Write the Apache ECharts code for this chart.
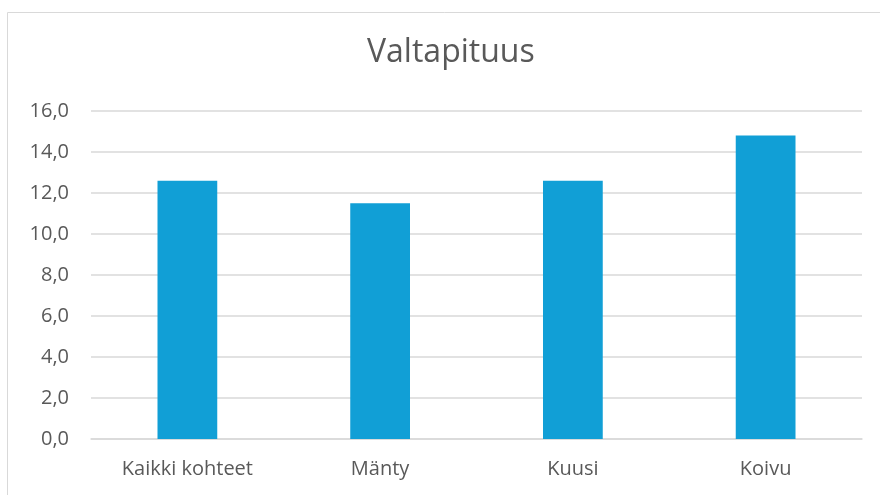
<!DOCTYPE html>
<html><head><meta charset="utf-8">
<script src="https://cdn.jsdelivr.net/npm/echarts@6/dist/echarts.min.js"></script>
<style>html,body{margin:0;padding:0;background:#fff}#c{width:880px;height:495px}</style>
</head><body><div id="c"></div>
<script>
const categories = ["Kaikki kohteet", "Mänty", "Kuusi", "Koivu"];
const values = [12.6, 11.5, 12.6, 14.8];
const yTicks = {min: 0, max: 16, interval: 2};
const title = "Valtapituus";

const chart = echarts.init(document.getElementById('c'), null, {renderer: 'canvas'});
const font = "'Open Sans', 'Noto Sans', sans-serif";
chart.setOption({
  animation: false,
  graphic: [{type: 'rect', shape: {x: 7.5, y: 12.5, width: 900, height: 500}, style: {fill: 'none', stroke: '#d9d9d9', lineWidth: 1}}],
  title: {text: title, left: 367, top: 37, padding: 0, textStyle: {fontFamily: font, fontSize: 32, fontWeight: 'normal', color: '#595959'}},
  grid: {left: 91, right: 18, top: 111, bottom: 56, containLabel: false},
  xAxis: {
    type: 'category', data: categories,
    axisLine: {lineStyle: {color: '#d9d9d9', width: 1.5}},
    axisTick: {show: false},
    axisLabel: {fontFamily: font, fontSize: 20, color: '#595959', margin: 20}
  },
  yAxis: {
    type: 'value', min: yTicks.min, max: yTicks.max, interval: yTicks.interval,
    axisLine: {show: false}, axisTick: {show: false},
    splitLine: {lineStyle: {color: '#d9d9d9', width: 1.5}},
    axisLabel: {fontFamily: font, fontSize: 20, color: '#595959', margin: 22,
      formatter: v => v.toFixed(1).replace('.', ',')}
  },
  series: [{type: 'bar', data: values, barWidth: '31%', itemStyle: {color: '#119FD6'}}]
});
</script></body></html>
